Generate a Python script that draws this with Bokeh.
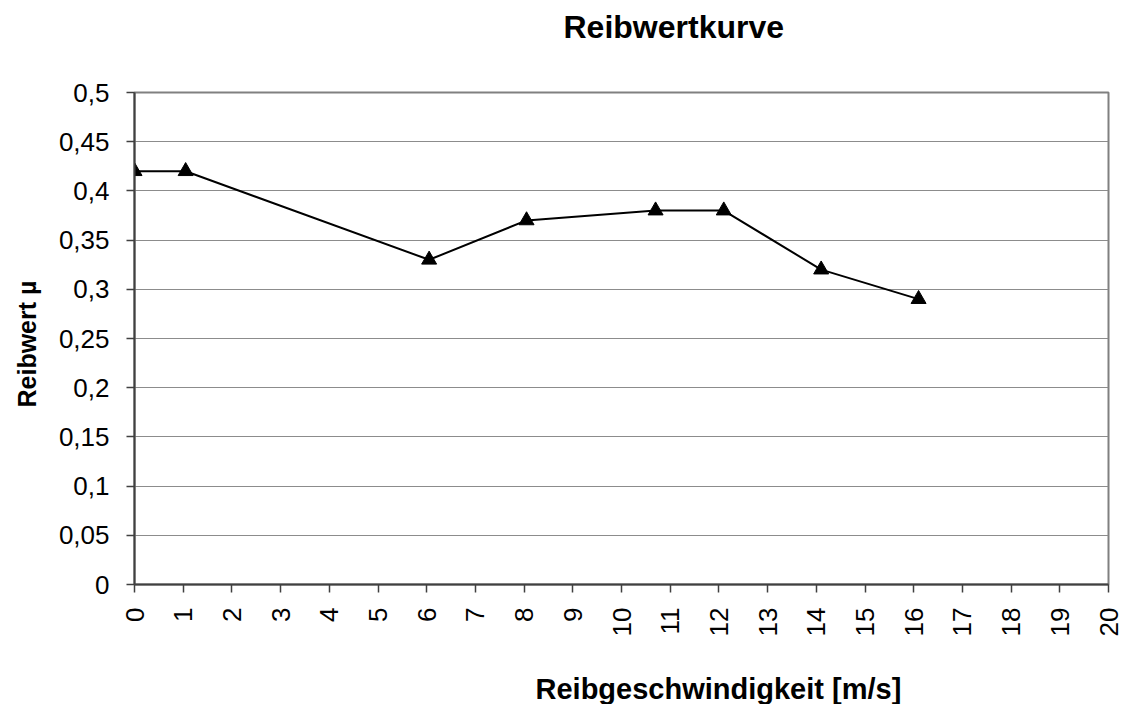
import math
from bokeh.plotting import figure
from bokeh.models import Range1d, FixedTicker, LinearAxis, Title
from bokeh.embed import file_html
from bokeh.resources import INLINE

# Data
speed = [0, 1.05, 6.05, 8.05, 10.7, 12.1, 14.1, 16.1]
mu = [0.42, 0.42, 0.33, 0.37, 0.38, 0.38, 0.32, 0.29]

x_ticks = list(range(0, 21))
x_tick_labels = [str(v) for v in x_ticks]
y_ticks = [0, 0.05, 0.1, 0.15, 0.2, 0.25, 0.3, 0.35, 0.4, 0.45, 0.5]
y_tick_labels = ["0", "0,05", "0,1", "0,15", "0,2", "0,25", "0,3", "0,35", "0,4", "0,45", "0,5"]

title_text = "Reibwertkurve"
x_label_text = "Reibgeschwindigkeit  [m/s]"
y_label_text = "Reibwert µ"

FONT = "Liberation Sans"

p = figure(width=1126, height=704, output_backend="svg", toolbar_location=None,
           x_range=Range1d(0, 20), y_range=Range1d(0, 0.5),
           min_border_left=131, min_border_right=18, min_border_top=92, min_border_bottom=119)

p.background_fill_color = "white"
p.border_fill_color = "white"
p.outline_line_color = "#808080"
p.outline_line_width = 2

p.xgrid.visible = False
p.ygrid.grid_line_color = "#8c8c8c"
p.ygrid.grid_line_width = 1

p.xaxis.ticker = FixedTicker(ticks=x_ticks)
p.xaxis.major_label_overrides = {t: l for t, l in zip(x_ticks, x_tick_labels)}
p.xaxis.major_label_orientation = math.pi / 2
p.yaxis.ticker = FixedTicker(ticks=y_ticks)
p.yaxis.major_label_overrides = {t: l for t, l in zip(y_ticks, y_tick_labels)}

for ax in (p.xaxis[0], p.yaxis[0]):
    ax.axis_line_color = "#404040"
    ax.axis_line_width = 2
    ax.major_tick_line_color = "#404040"
    ax.major_tick_line_width = 1.5
    ax.major_tick_out = 8
    ax.major_tick_in = 0
    ax.minor_tick_line_color = None
    ax.major_label_text_font = FONT
    ax.major_label_text_font_size = "26px"
    ax.major_label_text_color = "black"

p.xaxis.major_label_standoff = 15
p.yaxis.major_label_standoff = 17


def spacer(px):
    # an empty axis (no ticks, blank label) used only to reserve space
    a = LinearAxis(ticker=FixedTicker(ticks=[]), axis_line_color=None,
                   major_tick_line_color=None, minor_tick_line_color=None,
                   major_tick_out=0, major_tick_in=0, minor_tick_out=0, minor_tick_in=0,
                   major_label_standoff=0)
    a.axis_label = " "
    a.axis_label_text_font_size = "1px"
    a.axis_label_standoff = px - 1
    return a


def text_title(text, size, offset, standoff, valign="bottom"):
    return Title(text=text, align="left", offset=offset, standoff=standoff,
                 vertical_align=valign, text_font=FONT,
                 text_font_style="bold", text_font_size=size, text_color="black")


# title: pushed up by an invisible spacer
p.add_layout(spacer(42), "above")
p.add_layout(text_title(title_text, "32px", 429, 6), "above")

# x label below the tick labels
p.add_layout(spacer(28), "below")
p.add_layout(text_title(x_label_text, "29px", 401, 0), "below")

# y label
p.add_layout(text_title(y_label_text, "25px", 177, 25, "top"), "left")

p.line(speed, mu, line_color="black", line_width=2)
p.scatter(speed, mu, marker="triangle", size=15, fill_color="black", line_color="black")

open("out.html", "w").write(file_html(p, INLINE))
